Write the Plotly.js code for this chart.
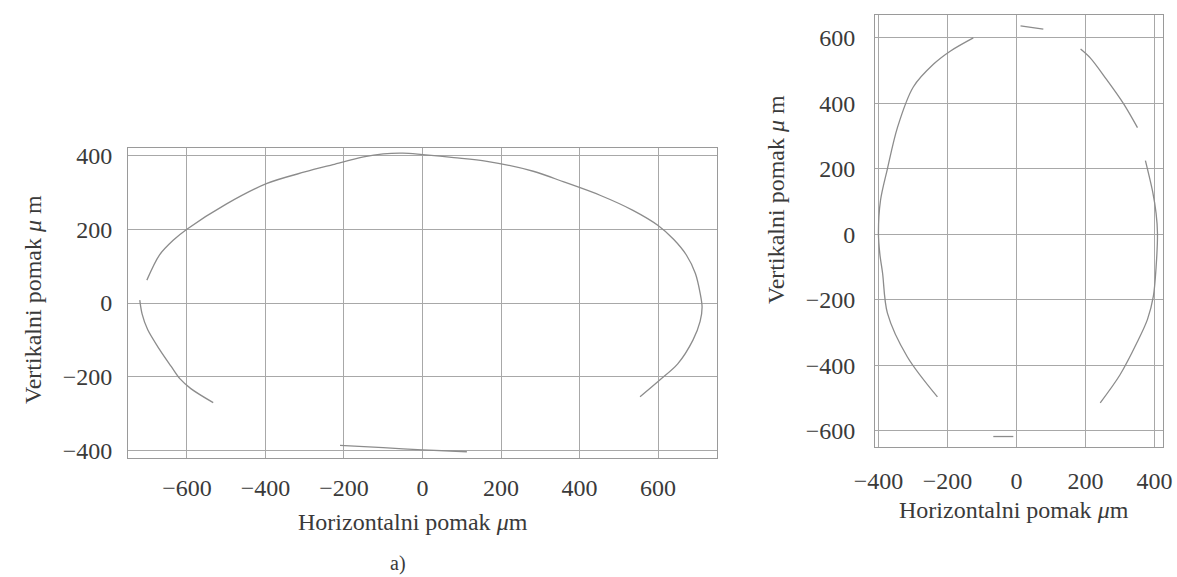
<!DOCTYPE html>
<html>
<head>
<meta charset="utf-8">
<script src="https://cdn.plot.ly/plotly-3.0.1.min.js"></script>
<style>html,body{margin:0;padding:0;background:#fff;}#chart{width:1177px;height:577px;}</style>
</head>
<body>
<div id="chart"></div>
<script>
// Left panel (a): orbit, visible traced pieces separated by null gaps
const leftX = [-702,-670,-635,-600,-500,-396,-300,-228,-150,-100,-50,0,80,164,282,360,452,536,600,640,672,695,707,712,707,689,650,605,554,
  null,
  -720,-714,-700,-669,-640,-618,-590,-533,
  null,
  -210,-100,0,113];
const leftY = [62,130,170,200,268,324,355,375,396,404,406,402,394,384,357,328,292,251,210,172,130,80,27,-11,-50,-100,-165,-208,-254,
  null,
  8,-30,-72,-127,-172,-205,-232,-270,
  null,
  -386,-392,-398,-403];

// Right panel: orbit pieces
const rightX = [-125,-191,-240,-299,-345,-374,-394,-400,-396,-388,-374,-316,-229,
  null,
  12,78,
  null,
  186,214,260,310,351,
  null,
  374,395,405,409,405,397,380,350,300,243,
  null,
  -67,-9];
const rightY = [600,560,520,450,326,200,104,3,-60,-119,-241,-375,-497,
  null,
  637,627,
  null,
  566,539,475,400,326,
  null,
  225,130,64,3,-100,-190,-260,-330,-430,-515,
  null,
  -618,-618];

const leftXTicks = [-600,-400,-200,0,200,400,600];
const leftYTicks = [-400,-200,0,200,400];
const rightXTicks = [-400,-200,0,200,400];
const rightYTicks = [-600,-400,-200,0,200,400,600];

const xTitleText = 'Horizontalni pomak <i>μ</i>m';
const yTitleText = 'Vertikalni pomak <i>μ</i> m';
const panelLabel = 'a)';

const FONT = 'Liberation Serif, Times New Roman, serif';
const TXT = '#3a3a3a';
const GRID = '#a8a8a8';
const FRAME = '#9a9a9a';
const CURVE = '#8c8c8c';

function axisBase(ticks, range, domain, anchor, standoff) {
  return {
    range: range, domain: domain, anchor: anchor,
    tickmode: 'array', tickvals: ticks,
    ticktext: ticks.map(v => v < 0 ? '\u2212' + Math.abs(v) : String(v)),
    showgrid: true, gridcolor: GRID, gridwidth: 1,
    zeroline: false,
    showline: true, linecolor: FRAME, linewidth: 1, mirror: true,
    ticks: '', ticklabelstandoff: standoff,
    tickfont: {family: FONT, size: 24, color: TXT},
    fixedrange: true
  };
}

const traces = [
  {x: leftX, y: leftY, xaxis: 'x', yaxis: 'y', type: 'scatter', mode: 'lines',
   connectgaps: false, line: {color: CURVE, width: 1.3, shape: 'spline', smoothing: 0.9}, hoverinfo: 'skip'},
  {x: rightX, y: rightY, xaxis: 'x2', yaxis: 'y2', type: 'scatter', mode: 'lines',
   connectgaps: false, line: {color: CURVE, width: 1.3, shape: 'spline', smoothing: 0.9}, hoverinfo: 'skip'}
];

const W = 1177, H = 577;
const layout = {
  width: W, height: H,
  margin: {l: 0, r: 0, t: 0, b: 0},
  paper_bgcolor: '#fff', plot_bgcolor: '#fff',
  showlegend: false,
  font: {family: FONT, color: TXT},
  xaxis: axisBase(leftXTicks, [-750, 750], [128/W, 717/W], 'y', 8),
  yaxis: axisBase(leftYTicks, [-420, 420], [1 - 458/H, 1 - 148/H], 'x', 10),
  xaxis2: axisBase(rightXTicks, [-410, 425], [875/W, 1163/W], 'y2', 12),
  yaxis2: axisBase(rightYTicks, [-650, 670], [1 - 447/H, 1 - 15/H], 'x2', 14),
  annotations: [
    {text: xTitleText, xref: 'paper', yref: 'paper', x: 413/W, y: 1 - 522/H,
     showarrow: false, xanchor: 'center', yanchor: 'middle', font: {family: FONT, size: 24, color: TXT}},
    {text: yTitleText, xref: 'paper', yref: 'paper', x: 33/W, y: 1 - 300/H, textangle: -90,
     showarrow: false, xanchor: 'center', yanchor: 'middle', font: {family: FONT, size: 24, color: TXT}},
    {text: xTitleText, xref: 'paper', yref: 'paper', x: 1014/W, y: 1 - 510/H,
     showarrow: false, xanchor: 'center', yanchor: 'middle', font: {family: FONT, size: 24, color: TXT}},
    {text: yTitleText, xref: 'paper', yref: 'paper', x: 776/W, y: 1 - 200/H, textangle: -90,
     showarrow: false, xanchor: 'center', yanchor: 'middle', font: {family: FONT, size: 24, color: TXT}},
    {text: panelLabel, xref: 'paper', yref: 'paper', x: 398/W, y: 1 - 563/H,
     showarrow: false, xanchor: 'center', yanchor: 'middle', font: {family: FONT, size: 20, color: TXT}}
  ]
};

Plotly.newPlot('chart', traces, layout, {displayModeBar: false, staticPlot: true});
</script>
</body>
</html>
